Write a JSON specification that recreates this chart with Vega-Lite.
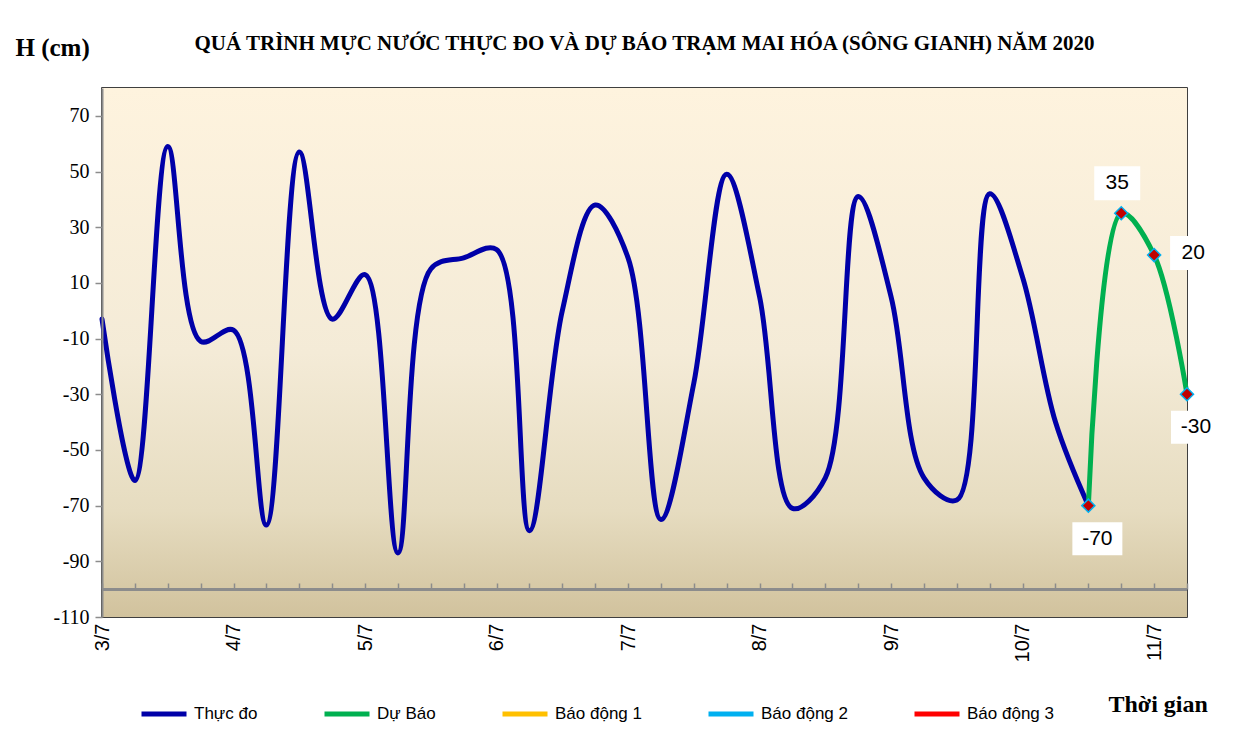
{
  "$schema": "https://vega.github.io/schema/vega-lite/v6.json",
  "width": 1085,
  "height": 529,
  "autosize": {"type": "none"},
  "padding": {"left": 102, "top": 88, "right": 50, "bottom": 121},
  "background": "white",
  "title": {
    "text": "QUÁ TRÌNH MỰC NƯỚC THỰC ĐO VÀ DỰ BÁO TRẠM MAI HÓA (SÔNG GIANH) NĂM 2020",
    "font": "Liberation Serif",
    "fontSize": 21,
    "fontWeight": "bold",
    "color": "black",
    "anchor": "middle",
    "frame": "group",
    "offset": 34,
    "dy": 53
  },
  "datasets": {
    "mucnuoc": [
      {"thoigian": "2020-07-03T00:00", "muc": -3, "loai": "Thực đo"},
      {"thoigian": "2020-07-03T06:00", "muc": -61, "loai": "Thực đo"},
      {"thoigian": "2020-07-03T12:00", "muc": 59, "loai": "Thực đo"},
      {"thoigian": "2020-07-03T18:00", "muc": -11, "loai": "Thực đo"},
      {"thoigian": "2020-07-04T00:00", "muc": -7, "loai": "Thực đo"},
      {"thoigian": "2020-07-04T06:00", "muc": -77, "loai": "Thực đo"},
      {"thoigian": "2020-07-04T12:00", "muc": 57, "loai": "Thực đo"},
      {"thoigian": "2020-07-04T18:00", "muc": -3, "loai": "Thực đo"},
      {"thoigian": "2020-07-05T00:00", "muc": 13, "loai": "Thực đo"},
      {"thoigian": "2020-07-05T06:00", "muc": -87, "loai": "Thực đo"},
      {"thoigian": "2020-07-05T12:00", "muc": 15, "loai": "Thực đo"},
      {"thoigian": "2020-07-05T18:00", "muc": 19, "loai": "Thực đo"},
      {"thoigian": "2020-07-06T00:00", "muc": 22, "loai": "Thực đo"},
      {"thoigian": "2020-07-06T06:00", "muc": -79, "loai": "Thực đo"},
      {"thoigian": "2020-07-06T12:00", "muc": 0, "loai": "Thực đo"},
      {"thoigian": "2020-07-06T18:00", "muc": 38, "loai": "Thực đo"},
      {"thoigian": "2020-07-07T00:00", "muc": 19, "loai": "Thực đo"},
      {"thoigian": "2020-07-07T06:00", "muc": -75, "loai": "Thực đo"},
      {"thoigian": "2020-07-07T12:00", "muc": -26, "loai": "Thực đo"},
      {"thoigian": "2020-07-07T18:00", "muc": 49, "loai": "Thực đo"},
      {"thoigian": "2020-07-08T00:00", "muc": 5, "loai": "Thực đo"},
      {"thoigian": "2020-07-08T06:00", "muc": -71, "loai": "Thực đo"},
      {"thoigian": "2020-07-08T12:00", "muc": -60, "loai": "Thực đo"},
      {"thoigian": "2020-07-08T18:00", "muc": 41, "loai": "Thực đo"},
      {"thoigian": "2020-07-09T00:00", "muc": 5, "loai": "Thực đo"},
      {"thoigian": "2020-07-09T06:00", "muc": -60, "loai": "Thực đo"},
      {"thoigian": "2020-07-09T12:00", "muc": -68, "loai": "Thực đo"},
      {"thoigian": "2020-07-09T18:00", "muc": 42, "loai": "Thực đo"},
      {"thoigian": "2020-07-10T00:00", "muc": 12, "loai": "Thực đo"},
      {"thoigian": "2020-07-10T06:00", "muc": -40, "loai": "Thực đo"},
      {"thoigian": "2020-07-10T12:00", "muc": -70, "loai": "Thực đo"},
      {"thoigian": "2020-07-10T12:00", "muc": -70, "loai": "Dự Báo"},
      {"thoigian": "2020-07-10T18:00", "muc": 35, "loai": "Dự Báo"},
      {"thoigian": "2020-07-11T00:00", "muc": 20, "loai": "Dự Báo"},
      {"thoigian": "2020-07-11T06:00", "muc": -30, "loai": "Dự Báo"}
    ]
  },
  "data": {"name": "mucnuoc"},
  "resolve": {"axis": {"x": "independent"}},
  "layer": [
    {
      "mark": {
        "type": "rect",
        "color": {
          "gradient": "linear",
          "x1": 0, "y1": 0, "x2": 0, "y2": 1,
          "stops": [
            {"offset": 0, "color": "#FEF3DE"},
            {"offset": 0.5, "color": "#F4EBD7"},
            {"offset": 0.8, "color": "#E6DCC0"},
            {"offset": 1, "color": "#D1C29D"}
          ]
        }
      },
      "encoding": {
        "x": {
          "datum": {"year": 2020, "month": 7, "date": 3, "hours": 0},
          "type": "temporal",
          "axis": null
        },
        "x2": {"datum": {"year": 2020, "month": 7, "date": 11, "hours": 6}},
        "y": {"datum": 80, "type": "quantitative"},
        "y2": {"datum": -110}
      }
    },
    {
      "mark": {"type": "rule", "color": "#8C8C8C", "strokeWidth": 2},
      "encoding": {
        "x": {
          "datum": {"year": 2020, "month": 7, "date": 3, "hours": 0},
          "type": "temporal",
          "axis": {
            "orient": "top",
            "offset": -501,
            "labels": false,
            "domain": false,
            "title": null,
            "grid": false,
            "tickColor": "#8C8C8C",
            "tickWidth": 1.5,
            "tickSize": 6,
            "tickCount": 33,
            "zindex": 1
          }
        },
        "x2": {"datum": {"year": 2020, "month": 7, "date": 11, "hours": 6}},
        "y": {"datum": -100, "type": "quantitative"}
      }
    },
    {
      "mark": {"type": "line", "interpolate": "catmull-rom", "tension": 0.5, "strokeWidth": 5, "strokeCap": "round"},
      "encoding": {
        "x": {
          "field": "thoigian",
          "type": "temporal",
          "scale": {
            "domain": [
              {"year": 2020, "month": 7, "date": 3, "hours": 0},
              {"year": 2020, "month": 7, "date": 11, "hours": 6}
            ],
            "nice": false
          },
          "axis": {
            "orient": "bottom",
            "format": "%-d/%-m",
            "tickCount": 8,
            "labelAngle": 270,
            "labelFont": "Liberation Sans",
            "labelFontSize": 20,
            "labelColor": "black",
            "labelPadding": 6,
            "labelFlush": false,
            "labelOverlap": false,
            "ticks": false,
            "domain": false,
            "grid": false,
            "title": "Thời gian",
            "titleFont": "Liberation Serif",
            "titleFontSize": 24,
            "titleFontWeight": "bold",
            "titleColor": "black",
            "titleAlign": "left",
            "titleBaseline": "alphabetic",
            "titleAngle": 0,
            "titleX": 1006,
            "titleY": 94,
            "zindex": 1
          }
        },
        "y": {
          "field": "muc",
          "type": "quantitative",
          "scale": {"domain": [-110, 80], "nice": false, "zero": false},
          "axis": {
            "values": [-110, -90, -70, -50, -30, -10, 10, 30, 50, 70],
            "labelExpr": "replace(datum.label, '−', '-')",
            "grid": false,
            "domainColor": "#8C8C8C",
            "domainWidth": 2,
            "tickColor": "#8C8C8C",
            "tickWidth": 1.5,
            "tickSize": 7,
            "labelFont": "Liberation Serif",
            "labelFontSize": 20,
            "labelColor": "black",
            "labelPadding": 6,
            "labelFlush": false,
            "labelOverlap": false,
            "title": "H (cm)",
            "titleFont": "Liberation Serif",
            "titleFontSize": 25,
            "titleFontWeight": "bold",
            "titleColor": "black",
            "titleAngle": 0,
            "titleAlign": "left",
            "titleBaseline": "alphabetic",
            "titleX": -87,
            "titleY": -33,
            "zindex": 1
          }
        },
        "color": {
          "field": "loai",
          "type": "nominal",
          "scale": {
            "domain": ["Thực đo", "Dự Báo", "Báo động 1", "Báo động 2", "Báo động 3"],
            "range": ["#0000A8", "#00B050", "#FFC000", "#00B0F0", "#FF0000"]
          },
          "legend": {
            "title": null,
            "orient": "none",
            "direction": "horizontal",
            "legendX": 37,
            "legendY": 601,
            "symbolType": "stroke",
            "symbolSize": 2025,
            "symbolStrokeWidth": 5,
            "labelFont": "Liberation Sans",
            "labelFontSize": 17,
            "labelColor": "black",
            "labelOffset": 5,
            "columnPadding": 56,
            "labelLimit": 300
          }
        }
      }
    },
    {
      "transform": [{"filter": "datum.loai == 'Dự Báo'"}],
      "mark": {"type": "point", "shape": "diamond", "filled": true, "size": 170, "fill": "#C00000", "stroke": "#00B0F0", "strokeWidth": 1.5, "opacity": 1},
      "encoding": {
        "x": {"field": "thoigian", "type": "temporal", "axis": null},
        "y": {"field": "muc", "type": "quantitative"}
      }
    },
    {
      "transform": [{"filter": "datum.loai == 'Dự Báo' && datum.muc < 0"}],
      "mark": {"type": "rect", "width": 50, "height": 33, "fill": "white", "xOffset": 9, "yOffset": 33},
      "encoding": {
        "x": {"field": "thoigian", "type": "temporal", "axis": null},
        "y": {"field": "muc", "type": "quantitative"}
      }
    },
    {
      "transform": [{"filter": "datum.loai == 'Dự Báo' && datum.muc == 35"}],
      "mark": {"type": "rect", "width": 46, "height": 34, "fill": "white", "xOffset": -4, "yOffset": -30},
      "encoding": {
        "x": {"field": "thoigian", "type": "temporal", "axis": null},
        "y": {"field": "muc", "type": "quantitative"}
      }
    },
    {
      "transform": [{"filter": "datum.loai == 'Dự Báo' && datum.muc == 20"}],
      "mark": {"type": "rect", "width": 46, "height": 34, "fill": "white", "xOffset": 39, "yOffset": -2},
      "encoding": {
        "x": {"field": "thoigian", "type": "temporal", "axis": null},
        "y": {"field": "muc", "type": "quantitative"}
      }
    },
    {
      "transform": [{"filter": "datum.loai == 'Dự Báo' && datum.muc < 0"}],
      "mark": {"type": "text", "font": "Liberation Sans", "fontSize": 21, "color": "black", "align": "center", "baseline": "middle", "dx": 9, "dy": 33},
      "encoding": {
        "x": {"field": "thoigian", "type": "temporal", "axis": null},
        "y": {"field": "muc", "type": "quantitative"},
        "text": {"field": "muc", "type": "nominal"}
      }
    },
    {
      "transform": [{"filter": "datum.loai == 'Dự Báo' && datum.muc == 35"}],
      "mark": {"type": "text", "font": "Liberation Sans", "fontSize": 21, "color": "black", "align": "center", "baseline": "middle", "dx": -4, "dy": -30},
      "encoding": {
        "x": {"field": "thoigian", "type": "temporal", "axis": null},
        "y": {"field": "muc", "type": "quantitative"},
        "text": {"field": "muc", "type": "nominal"}
      }
    },
    {
      "transform": [{"filter": "datum.loai == 'Dự Báo' && datum.muc == 20"}],
      "mark": {"type": "text", "font": "Liberation Sans", "fontSize": 21, "color": "black", "align": "center", "baseline": "middle", "dx": 39, "dy": -2},
      "encoding": {
        "x": {"field": "thoigian", "type": "temporal", "axis": null},
        "y": {"field": "muc", "type": "quantitative"},
        "text": {"field": "muc", "type": "nominal"}
      }
    }
  ],
  "config": {
    "view": {"stroke": "#000000", "strokeWidth": 1.5}
  }
}
